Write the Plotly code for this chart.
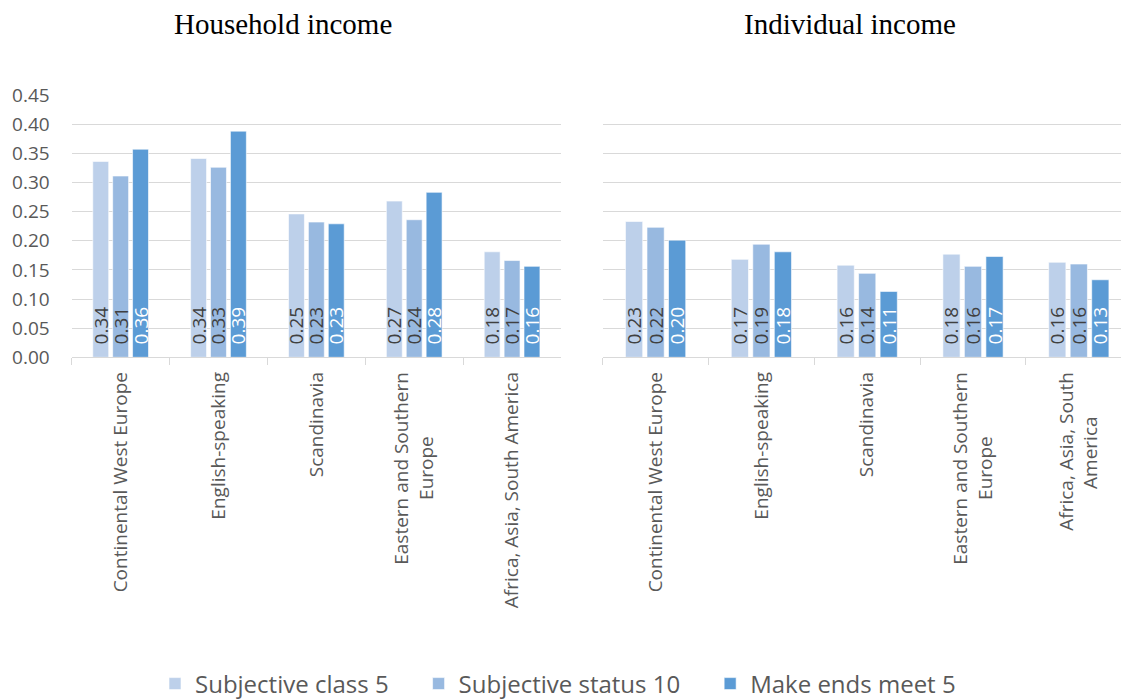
import plotly.graph_objects as go

NB = "\u00a0"
categories_left = ["Continental West Europe", "English-speaking", "Scandinavia",
                   "Eastern and Southern<br>Europe" + NB * 13, "Africa, Asia, South America"]
categories_right = ["Continental West Europe", "English-speaking", "Scandinavia",
                    "Eastern and Southern<br>Europe" + NB * 13, "Africa, Asia, South<br>America" + NB * 9]
series_names = ["Subjective class 5", "Subjective status 10", "Make ends meet 5"]

household_class = [0.336, 0.341, 0.246, 0.268, 0.181]
household_status = [0.311, 0.326, 0.232, 0.236, 0.166]
household_ends = [0.357, 0.388, 0.229, 0.283, 0.156]

individual_class = [0.233, 0.168, 0.158, 0.177, 0.163]
individual_status = [0.223, 0.194, 0.144, 0.156, 0.160]
individual_ends = [0.201, 0.181, 0.113, 0.173, 0.133]

y_ticks = [0.00, 0.05, 0.10, 0.15, 0.20, 0.25, 0.30, 0.35, 0.40, 0.45]

colors = ["#BDD0EA", "#98B9E0", "#5B9BD5"]
text_colors = ["#404040", "#404040", "#FFFFFF"]

W, H = 1121, 699
FONT = "Open Sans"

def px_x(p):
    return p / W

def px_y(p):
    return 1 - p / H

fig = go.Figure()

left_data = [household_class, household_status, household_ends]
right_data = [individual_class, individual_status, individual_ends]

for i, name in enumerate(series_names):
    fig.add_trace(go.Bar(
        x=categories_left, y=left_data[i], name=name + NB * 4,
        marker=dict(color=colors[i], line=dict(color="white", width=0.6)),
        texttemplate=NB * 2 + "%{y:.2f}", textposition="inside",
        insidetextanchor="start", textangle=-90,
        textfont=dict(color=text_colors[i], size=19, family=FONT),
        xaxis="x", yaxis="y", legendgroup=name, showlegend=True,
        hoverinfo="skip",
    ))
for i, name in enumerate(series_names):
    fig.add_trace(go.Bar(
        x=categories_right, y=right_data[i], name=name,
        marker=dict(color=colors[i], line=dict(color="white", width=0.6)),
        texttemplate=NB * 2 + "%{y:.2f}", textposition="inside",
        insidetextanchor="start", textangle=-90,
        textfont=dict(color=text_colors[i], size=19, family=FONT),
        xaxis="x2", yaxis="y2", legendgroup=name, showlegend=False,
        hoverinfo="skip",
    ))

cat_w_right = (1131.7 - 602.7) / 5.0
right_max = 4.5 - (1131.7 - W) / cat_w_right

axis_common = dict(
    type="category", showgrid=False, showline=True, linecolor="#D9D9D9", linewidth=1.3,
    ticks="outside", tickson="boundaries", ticklen=7, tickcolor="#D9D9D9", tickwidth=1.3,
    tickangle=-90, tickfont=dict(family=FONT, size=19, color="#595959"),
    ticklabelstandoff=6, fixedrange=True, automargin=False,
)
yaxis_common = dict(
    range=[0, 0.45], tickvals=y_ticks, showgrid=True, gridcolor="#D9D9D9", gridwidth=1.3,
    zeroline=False, showline=False, fixedrange=True, automargin=False,
    tickfont=dict(family=FONT, size=19, color="#595959"),
)

fig.update_layout(
    width=W, height=H, autosize=False,
    margin=dict(l=0, r=0, t=0, b=0, pad=0, autoexpand=False),
    paper_bgcolor="white", plot_bgcolor="white",
    barmode="group", bargap=0.39, bargroupgap=0.2,
    uniformtext=dict(minsize=19, mode="show"),
    xaxis=dict(domain=[px_x(71.7), px_x(561)], range=[-0.5, 4.5], anchor="y", **axis_common),
    xaxis2=dict(domain=[px_x(602.7), 1.0], range=[-0.5, right_max], anchor="y2", **axis_common),
    yaxis=dict(domain=[px_y(357.3), px_y(95)], anchor="x", tickformat=".2f",
               ticklabelstandoff=21, **yaxis_common),
    yaxis2=dict(domain=[px_y(357.3), px_y(95)], anchor="x2", showticklabels=False,
                **yaxis_common),
    legend=dict(orientation="h", x=px_x(155), xanchor="left", y=px_y(684), yanchor="middle",
                font=dict(family=FONT, size=24, color="#595959"),
                traceorder="normal"),
    annotations=[
        dict(text="Household income", x=px_x(282.5), y=px_y(24), xref="paper", yref="paper",
             showarrow=False, xanchor="center", yanchor="middle",
             font=dict(family="Liberation Serif", size=29, color="black")),
        dict(text="Individual income", x=px_x(849.5), y=px_y(24), xref="paper", yref="paper",
             showarrow=False, xanchor="center", yanchor="middle",
             font=dict(family="Liberation Serif", size=29, color="black")),
    ],
)

fig.write_html("out.html", config={"displayModeBar": False},
               post_script="document.body.style.margin='0';document.body.style.overflow='hidden';")
